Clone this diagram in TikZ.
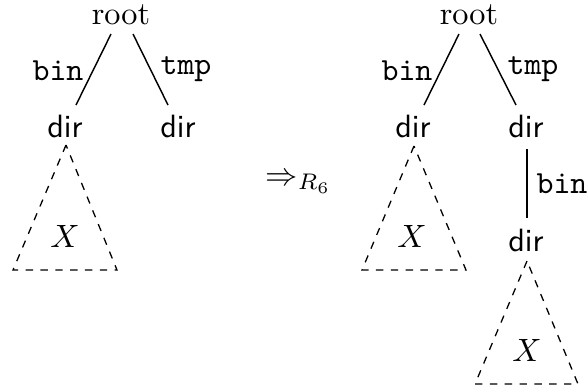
\documentclass[tikz,border=0pt]{standalone}
\begin{document}
\begin{tikzpicture}[x=0.31pt,y=-0.31pt,
  lbl/.style={inner sep=0pt,anchor=base},
  edge/.style={line width=0.45pt},
  sub/.style={dash pattern=on 2.3pt off 2.3pt,line width=0.4pt}]
\useasboundingbox (0,0) rectangle (587,391);
% ---------- left tree ----------
\node[lbl] (lroot) at (121,24) {root};
\node[lbl] (ldirA) at (65,137) {\sffamily dir};
\node[lbl] (ldirB) at (178,137) {\sffamily dir};
\coordinate (la1) at (111,34); \coordinate (la2) at (76,105);
\coordinate (lb1) at (133,34); \coordinate (lb2) at (168,105);
\draw[edge] (la1) -- (la2);
\draw[edge] (lb1) -- (lb2);
\node[lbl] (lbin) at (58,80) {\ttfamily bin};
\node[lbl] (ltmp) at (186,74) {\ttfamily tmp};
\coordinate (lt1) at (66,145); \coordinate (lt2) at (13,270); \coordinate (lt3) at (117,270);
\draw[sub] (lt1) -- (lt2) -- (lt3) -- cycle;
\node[lbl] (lX) at (65,247) {$X$};
% ---------- arrow ----------
\node[inner sep=0pt,anchor=base west] (arr) at (265,185) {$\Rightarrow_{R_6}$};
% ---------- right tree ----------
\node[lbl] (rroot) at (469,24) {root};
\node[lbl] (rdirA) at (413,137) {\sffamily dir};
\node[lbl] (rdirB) at (526,137) {\sffamily dir};
\coordinate (ra1) at (459,34); \coordinate (ra2) at (424,105);
\coordinate (rb1) at (480,34); \coordinate (rb2) at (516,105);
\draw[edge] (ra1) -- (ra2);
\draw[edge] (rb1) -- (rb2);
\node[lbl] (rbin) at (407,80) {\ttfamily bin};
\node[lbl] (rtmp) at (533,74) {\ttfamily tmp};
\coordinate (rt1) at (414,146); \coordinate (rt2) at (362,270); \coordinate (rt3) at (466,270);
\draw[sub] (rt1) -- (rt2) -- (rt3) -- cycle;
\node[lbl] (rX) at (412,247) {$X$};
\coordinate (rv1) at (527,149); \coordinate (rv2) at (527,218);
\draw[edge] (rv1) -- (rv2);
\node[lbl] (rbin2) at (562,193) {\ttfamily bin};
\node[lbl] (rdirC) at (526,251) {\sffamily dir};
\coordinate (rs1) at (527,261); \coordinate (rs2) at (475,384); \coordinate (rs3) at (578,384);
\draw[sub] (rs1) -- (rs2) -- (rs3) -- cycle;
\node[lbl] (rX2) at (527,361) {$X$};
\end{tikzpicture}
\end{document}
